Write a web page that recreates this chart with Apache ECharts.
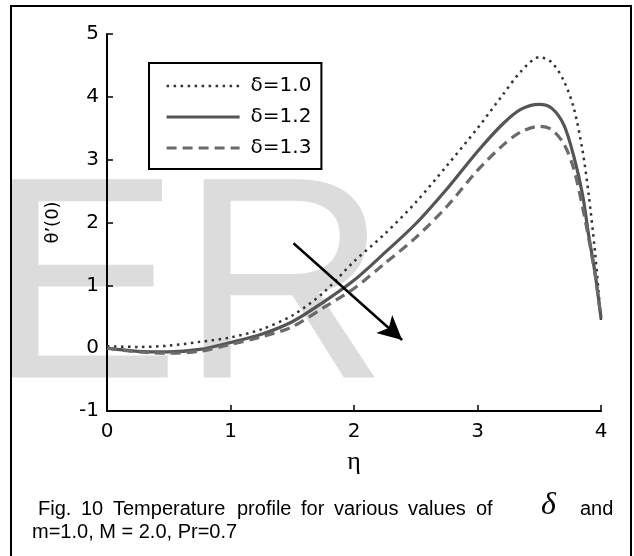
<!DOCTYPE html>
<html>
<head>
<meta charset="utf-8">
<script src="https://cdn.jsdelivr.net/npm/echarts@6/dist/echarts.min.js"></script>
<style>
html, body { margin: 0; padding: 0; background: #fff; }
#main { width: 634px; height: 556px; }
</style>
</head>
<body>
<div id="main"></div>
<script>
var myChart = echarts.init(document.getElementById('main'));

// eta grid and theta'(0)
var eta      = [0, 0.25, 0.5, 0.75, 1.0, 1.25, 1.5, 1.75, 2.0, 2.25, 2.5, 2.75, 3.0, 3.2, 3.35, 3.5, 3.6, 3.7, 3.78, 3.85, 3.9, 3.95, 4.0];
var theta10  = [0.03, 0.02, 0.04, 0.10, 0.17, 0.30, 0.52, 0.88, 1.38, 1.82, 2.32, 2.90, 3.50, 4.02, 4.40, 4.63, 4.55, 4.25, 3.82, 3.15, 2.45, 1.56, 0.45];
var theta12  = [0.00, -0.05, -0.06, -0.02, 0.09, 0.22, 0.42, 0.73, 1.08, 1.52, 1.98, 2.53, 3.13, 3.56, 3.80, 3.88, 3.82, 3.55, 3.05, 2.45, 1.80, 1.22, 0.48];
var theta13  = [0.00, -0.06, -0.08, -0.05, 0.06, 0.18, 0.34, 0.64, 0.95, 1.35, 1.76, 2.25, 2.83, 3.22, 3.44, 3.53, 3.48, 3.25, 2.85, 2.25, 1.75, 1.20, 0.48];
var names    = ['δ=1.0', 'δ=1.2', 'δ=1.3'];
var xTicks   = [0, 1, 2, 3, 4];
var yTicks   = [-1, 0, 1, 2, 3, 4, 5];
// arrow drawn in data units
var arrowFrom = [1.51, 1.67];
var arrowTo   = [2.39, 0.13];

function pairs(ys) {
	return eta.map(function (x, i) { return [x, ys[i]]; });
}

var axisFont = 'DejaVu Sans';

var styles = [
	{ color: '#333', width: 2.5, type: [2.5, 4.5] },
	{ color: '#555', width: 3.2, type: 'solid' },
	{ color: '#6a6a6a', width: 3.2, type: [10, 6] }
];

// caption words, line 1 is justified so each word is placed on its own
function word(txt, x, y) {
	return {
		type: 'text', silent: true, x: x, y: y,
		style: { text: txt, fontFamily: 'Liberation Sans', fontSize: 20, fill: '#000', verticalAlign: 'middle' }
	};
}

option = {
	animation: false,
	backgroundColor: '#fff',
	grid: {
		left: 107,
		right: 33,
		top: 34,
		bottom: 145,
		containLabel: false
	},
	legend: {
		orient: 'vertical',
		left: 149,
		top: 63,
		padding: [13, 10, 11, 16],
		itemGap: 11,
		itemWidth: 73,
		itemHeight: 14,
		borderColor: '#000',
		borderWidth: 2,
		backgroundColor: '#fff',
		itemStyle: { opacity: 0 },
		textStyle: {
			fontFamily: axisFont,
			fontSize: 20,
			color: '#000',
			padding: [0, 0, 0, 6]
		},
		data: names.map(function (n, i) {
			return { name: n, lineStyle: styles[i] };
		})
	},
	xAxis: {
		type: 'value',
		min: xTicks[0],
		max: xTicks[xTicks.length - 1],
		interval: 1,
		name: 'η',
		nameLocation: 'middle',
		nameGap: 38,
		nameTextStyle: { fontFamily: 'Liberation Serif', fontSize: 26, color: '#000' },
		axisLine: { onZero: false, lineStyle: { color: '#000', width: 2 } },
		axisTick: { inside: true, length: 6, lineStyle: { color: '#000', width: 1.5 } },
		axisLabel: { fontFamily: axisFont, fontSize: 20, color: '#000', margin: 11 },
		splitLine: { show: false }
	},
	yAxis: {
		type: 'value',
		min: yTicks[0],
		max: yTicks[yTicks.length - 1],
		interval: 1,
		name: 'θ’(0)',
		nameLocation: 'middle',
		nameGap: 45,
		nameTextStyle: { fontFamily: axisFont, fontSize: 18, color: '#000' },
		axisLine: { show: true, lineStyle: { color: '#000', width: 2 } },
		axisTick: { show: true, inside: true, length: 6, lineStyle: { color: '#000', width: 1.5 } },
		axisLabel: { fontFamily: axisFont, fontSize: 20, color: '#000', margin: 8 },
		splitLine: { show: false }
	},
	series: [
		{
			name: names[0],
			type: 'line',
			data: pairs(theta10),
			symbol: 'none',
			smooth: 0.3,
			z: 3,
			itemStyle: { color: styles[0].color },
			lineStyle: styles[0]
		},
		{
			name: names[1],
			type: 'line',
			data: pairs(theta12),
			symbol: 'none',
			smooth: 0.3,
			z: 3,
			itemStyle: { color: styles[1].color },
			lineStyle: styles[1]
		},
		{
			name: names[2],
			type: 'line',
			data: pairs(theta13),
			symbol: 'none',
			smooth: 0.3,
			z: 3,
			itemStyle: { color: styles[2].color },
			lineStyle: styles[2],
			markLine: {
				silent: true,
				symbol: ['none', 'arrow'],
				symbolSize: [18, 24],
				label: { show: false },
				lineStyle: { color: '#000', width: 2.5, type: 'solid' },
				data: [[{ coord: arrowFrom }, { coord: arrowTo }]]
			}
		}
	],
	graphic: [
		{
			type: 'text',
			silent: true,
			z: -10,
			x: -12,
			y: 298,
			style: {
				text: 'ER',
				fontFamily: 'Liberation Sans',
				fontSize: 288,
				fill: '#dcdcdc',
				align: 'left',
				verticalAlign: 'middle'
			}
		},
		word('Fig.', 38, 509),
		word('10', 81, 509),
		word('Temperature', 113, 509),
		word('profile', 237, 509),
		word('for', 301, 509),
		word('various', 334, 509),
		word('values', 408, 509),
		word('of', 476, 509),
		{ type: 'text', silent: true, x: 541, y: 506, style: { text: 'δ', fontFamily: 'Liberation Serif', fontStyle: 'italic', fontSize: 32, fill: '#000', verticalAlign: 'middle' } },
		word('and', 580, 509),
		word('m=1.0, M = 2.0, Pr=0.7', 32, 532),
		{
			type: 'rect',
			silent: true,
			z: 100,
			shape: { x: 11, y: 6, width: 620, height: 570 },
			style: { fill: 'none', stroke: '#000', lineWidth: 2 }
		}
	]
};

myChart.setOption(option);
</script>
</body>
</html>
